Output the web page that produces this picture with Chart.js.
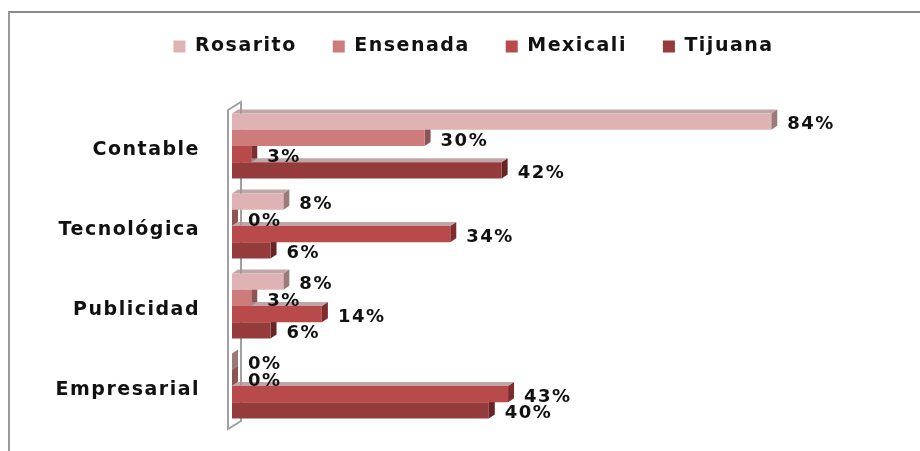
<!DOCTYPE html>
<html>
<head>
<meta charset="utf-8">
<script src="https://cdn.jsdelivr.net/npm/chart.js@4"></script>
<style>
  body { margin: 0; background: #fff; }
  #wrap { position: relative; width: 920px; height: 451px; overflow: hidden; }
  #frame { position: absolute; left: 8px; top: 11px; width: 940px; height: 460px;
           border-left: 2px solid #999; border-top: 2px solid #8a8a8a; }
  canvas { position: absolute; left: 0; top: 0; }
</style>
</head>
<body>
<div id="wrap">
  <div id="frame"></div>
  <canvas id="myChart" width="920" height="451"></canvas>
</div>
<script>
let categorias = ["Contable", "Tecnológica", "Publicidad", "Empresarial"];
let rosarito   = [84, 8, 8, 0];
let ensenada   = [30, 0, 3, 0];
let mexicali   = [3, 34, 14, 43];
let tijuana    = [42, 6, 6, 40];

let colores = ["#dfb3b3", "#cd7b7b", "#b84a49", "#953b3b"];
let lados   = ["#9c7a7a", "#8e5454", "#7c2e2e", "#672424"];
let fuente  = "'DejaVu Sans', sans-serif";
let fondo   = 4; // depth of the fake 3d

// wider lettering, set before the legend measures its labels
const espaciado = {
    id: "espaciado",
    beforeUpdate(chart) { chart.ctx.letterSpacing = "1.5px"; },
    beforeDraw(chart) {
        chart.ctx.letterSpacing = "1.5px";
        // legend sits a bit right of the canvas centre
        chart.legend.left += 9;
        chart.legend.right += 9;
    }
};

// right side and top faces, drawn under the bar fronts
const caras3d = {
    id: "caras3d",
    beforeDatasetsDraw(chart) {
        const c = chart.ctx;
        const a = chart.chartArea;
        // the little wall behind the category axis
        c.save();
        c.strokeStyle = "#a0a0a0";
        c.lineWidth = 2;
        c.beginPath();
        c.moveTo(a.left - 4, a.bottom + 3);
        c.lineTo(a.left - 4, a.top + 4);
        c.lineTo(a.left + 9, a.top - 4);
        c.lineTo(a.left + 9, a.bottom - 5);
        c.closePath();
        c.stroke();
        c.restore();

        chart.data.datasets.forEach((ds, i) => {
            chart.getDatasetMeta(i).data.forEach(bar => {
                const top = bar.y - bar.height / 2;
                const bot = bar.y + bar.height / 2;
                c.save();
                c.fillStyle = lados[i];
                c.beginPath();
                c.moveTo(bar.x, top);
                c.lineTo(bar.x + 6, top - fondo);
                c.lineTo(bar.x + 6, bot - fondo);
                c.lineTo(bar.x, bot);
                c.closePath();
                c.fill();
                c.fillStyle = "#b09090";
                c.globalAlpha = 0.8;
                c.beginPath();
                c.moveTo(bar.base, top);
                c.lineTo(bar.base + 6, top - fondo);
                c.lineTo(bar.x + 6, top - fondo);
                c.lineTo(bar.x, top);
                c.closePath();
                c.fill();
                c.restore();
            });
        });
    }
};

const etiquetas = {
    id: "etiquetas",
    afterDatasetsDraw(chart) {
        const c = chart.ctx;
        c.save();
        c.font = "bold 18px " + fuente;
        c.letterSpacing = "1.5px";
        c.fillStyle = "#111";
        c.textAlign = "left";
        c.textBaseline = "middle";
        chart.data.datasets.forEach((ds, i) => {
            chart.getDatasetMeta(i).data.forEach((bar, j) => {
                c.fillText(ds.data[j] + "%", bar.x + 16, bar.y + 3);
            });
        });
        c.restore();
    }
};

const ctx = document.getElementById('myChart').getContext('2d');
const myChart = new Chart(ctx, {
    type: 'bar',
    data: {
        labels: categorias,
        datasets: [
            { label: "Rosarito", data: rosarito, backgroundColor: colores[0] },
            { label: "Ensenada", data: ensenada, backgroundColor: colores[1] },
            { label: "Mexicali", data: mexicali, backgroundColor: colores[2] },
            { label: "Tijuana",  data: tijuana,  backgroundColor: colores[3] }
        ]
    },
    options: {
        indexAxis: 'y',
        responsive: false,
        animation: false,
        layout: { padding: { left: 55, right: 46, top: 1, bottom: 25 } },
        datasets: { bar: { categoryPercentage: 0.81, barPercentage: 1.0 } },
        scales: {
            x: {
                position: 'top',
                min: 0,
                max: 100,
                ticks: { display: false },
                grid: { display: false },
                border: { display: false },
                afterFit(scale) {
                    scale.height = 106 - 1 - scale.chart.legend.height;
                }
            },
            y: {
                ticks: {
                    color: "#111",
                    padding: 32,
                    labelOffset: 4,
                    font: { family: fuente, size: 19, weight: 'bold' }
                },
                grid: { display: false, drawTicks: false },
                border: { display: false },
                afterFit(scale) {
                    scale.width = 177;
                    scale.paddingTop = 0;
                    scale.paddingBottom = 0;
                }
            }
        },
        plugins: {
            legend: {
                position: 'top',
                labels: {
                    boxWidth: 12,
                    boxHeight: 12,
                    padding: 36,
                    color: "#111",
                    font: { family: fuente, size: 19, weight: 'bold' }
                }
            },
            tooltip: { enabled: false }
        }
    },
    plugins: [espaciado, caras3d, etiquetas]
});
</script>
</body>
</html>
